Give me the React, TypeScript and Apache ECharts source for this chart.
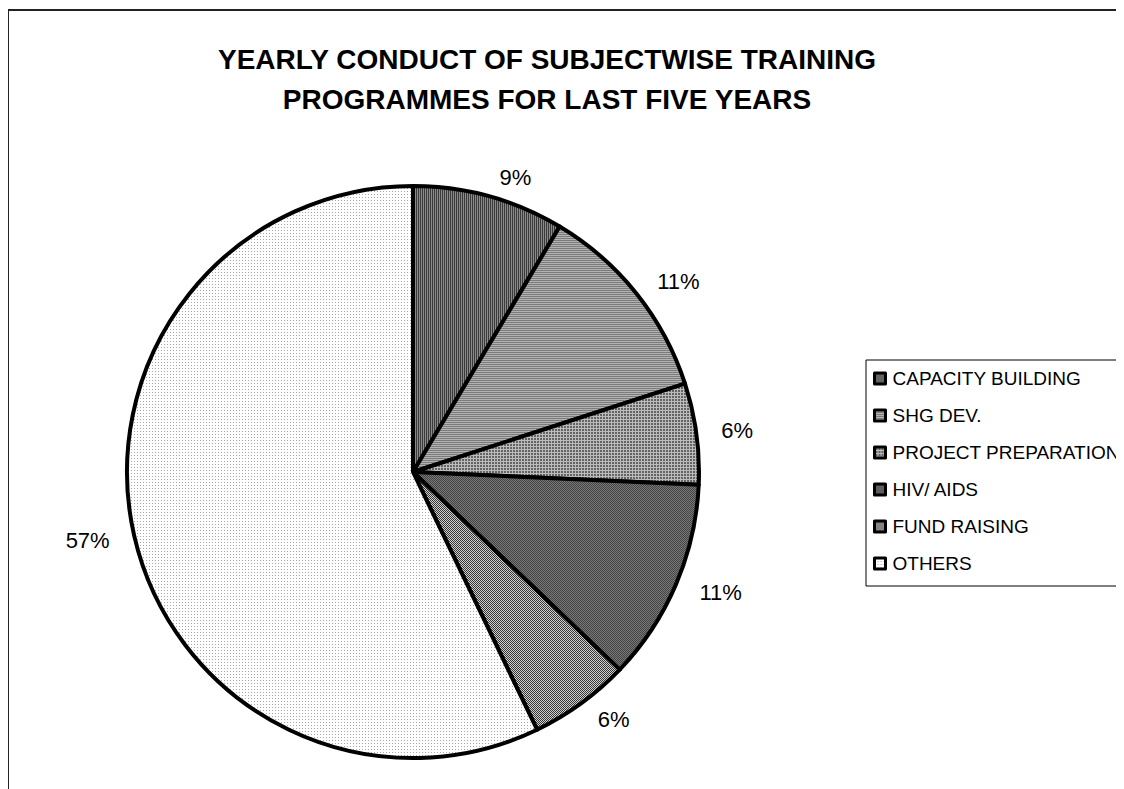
import React, { useEffect, useRef } from "react";
import * as echarts from "echarts";

const titleLines = ["YEARLY CONDUCT OF SUBJECTWISE TRAINING", "PROGRAMMES FOR LAST FIVE YEARS"];
const categories = ["CAPACITY BUILDING", "SHG DEV.", "PROJECT PREPARATION", "HIV/ AIDS", "FUND RAISING", "OTHERS"];
const values = [3, 4, 2, 4, 2, 20];

type PixFn = (x: number, y: number) => string;

function makeTile(size: number, fn: PixFn) {
  const c = document.createElement("canvas");
  c.width = size;
  c.height = size;
  const ctx = c.getContext("2d")!;
  for (let y = 0; y < size; y++) {
    for (let x = 0; x < size; x++) {
      ctx.fillStyle = fn(x, y);
      ctx.fillRect(x, y, 1, 1);
    }
  }
  return { image: c, repeat: "repeat", imageWidth: size, imageHeight: size } as any;
}

export default function App() {
  const ref = useRef<HTMLDivElement>(null);
  useEffect(() => {
    if (!ref.current) return;
    const chart = echarts.init(ref.current, null, { renderer: "svg" });
    const fills = [
      makeTile(2, (x) => (x % 2 === 0 ? "#3a3a3a" : "#8a8a8a")),
      makeTile(2, (_x, y) => (y % 2 === 0 ? "#7c7c7c" : "#b2b2b2")),
      makeTile(3, (x, y) => (x % 3 === 0 || y % 3 === 0 ? "#bcbcbc" : "#646464")),
      makeTile(2, (x, y) => ((x + y) % 2 === 0 ? "#444444" : "#787878")),
      makeTile(2, (x, y) => ((x + y) % 2 === 0 ? "#363636" : "#d0d0d0")),
      makeTile(3, (x, y) => (x % 3 === 0 && y % 3 === 0 ? "#a8a8a8" : "#ffffff")),
    ];
    const font = "'Liberation Sans', Arial, sans-serif";
    chart.setOption({
      animation: false,
      backgroundColor: "#ffffff",
      title: {
        text: titleLines.join("\n"),
        left: 534,
        top: 26,
        textAlign: "center",
        textStyle: {
          fontFamily: font,
          fontSize: 28,
          fontWeight: "bold",
          color: "#000",
          lineHeight: 40,
        },
      },
      graphic: [
        {
          type: "rect",
          shape: { x: 0, y: 2, width: 1400, height: 1000 },
          style: { fill: "none", stroke: "#222", lineWidth: 2 },
          silent: true,
        },
      ],
      legend: {
        orient: "vertical",
        left: 858,
        top: 352,
        padding: [9, 10, 13, 7],
        itemGap: 18,
        itemWidth: 11,
        itemHeight: 11,
        icon: "rect",
        backgroundColor: "#fff",
        borderColor: "#000",
        borderWidth: 1,
        borderRadius: 0,
        itemStyle: { borderColor: "#000", borderWidth: 3 },
        textStyle: { fontFamily: font, fontSize: 19, color: "#000", padding: [0, 0, 0, 2] },
        data: categories,
      },
      series: [
        {
          type: "pie",
          center: [405, 464],
          radius: 286,
          startAngle: 90,
          clockwise: true,
          avoidLabelOverlap: false,
          itemStyle: { borderColor: "#000", borderWidth: 4 },
          label: {
            show: true,
            position: "outside",
            fontFamily: font,
            fontSize: 22,
            color: "#000",
            formatter: (p: any) => Math.round(p.percent) + "%",
          },
          labelLine: { show: false, length: 20, length2: 0 },
          emphasis: { disabled: true },
          data: categories.map((name, i) => ({
            name,
            value: values[i],
            itemStyle: { color: fills[i] },
          })),
        },
      ],
    });
    return () => chart.dispose();
  }, []);
  return <div ref={ref} style={{ width: 1116, height: 781 }} />;
}
